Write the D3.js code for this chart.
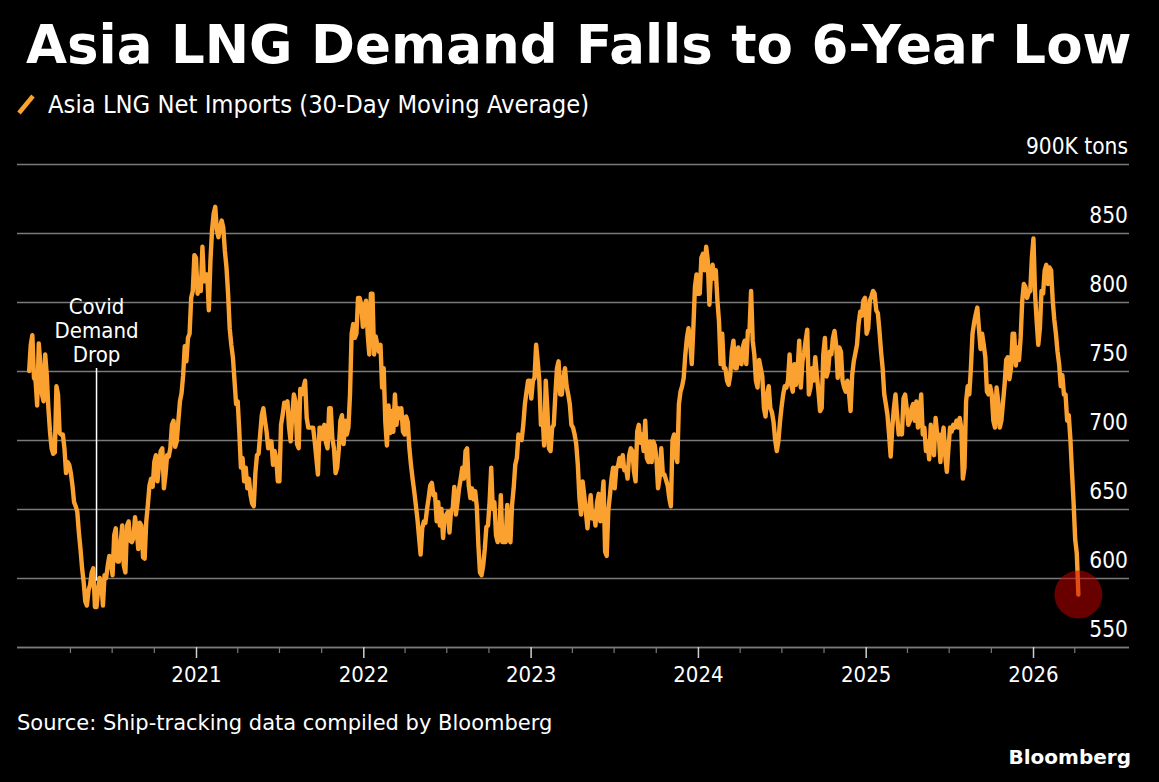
<!DOCTYPE html>
<html><head><meta charset="utf-8">
<script src="https://cdn.jsdelivr.net/npm/d3@7"></script>
<style>
html,body{margin:0;padding:0;background:#000;}
svg{display:block;}
.cond{font-family:'DejaVu Sans Condensed','DejaVu Sans',sans-serif;font-stretch:condensed;}
.reg{font-family:'DejaVu Sans',sans-serif;}
</style></head>
<body><svg id="chart" width="1159" height="782"></svg>
<script>
// ---- text ----
const titleText = "Asia LNG Demand Falls to 6-Year Low";
const seriesName = "Asia LNG Net Imports (30-Day Moving Average)";
const sourceText = "Source: Ship-tracking data compiled by Bloomberg";
const brandText = "Bloomberg";
const unitSuffix = "K tons";
const annotationLines = ["Covid", "Demand", "Drop"];
const annotationDate = "2020-05-29";
const annotationValue = 598;

// ---- axes ----
const yTicks = [550, 600, 650, 700, 750, 800, 850, 900];
const xLabelYears = [2021, 2022, 2023, 2024, 2025, 2026];
const xDomain = ["2019-12-07T12:00:00Z", "2026-07-29T10:00:00Z"];
const minorTickFrom = "2020-04-01";
const minorTickTo = "2026-04-01";

// ---- series (thousand tons) ----
// readings every 7 days from startDate, and the readings half-way between them
const startDate = "2020-01-03";
const stepHours = 84; // half a week between consecutive readings once interleaved
const weeklyValues = [
 750,776,743,770,733,762,723,694,691,733,704,694,684,676,655,648,621,597,580,595,
 607,579,600,580,600,616,602,636,612,638,604,641,626,644,621,638,614,653,672,684,
 670,692,665,689,694,714,699,728,747,757,777,808,832,815,
 840,820,794,852,869,847,859,837,806,769,743,728,680,670,665,660,652,689,704,723,
 706,699,682,687,670,718,726,709,718,728,694,733,743,709,709,699,675,709,711,694,
 723,694,680,714,697,704,733,784,777,803,782,801,762,806,775,
 764,738,713,725,721,733,723,723,704,713,682,663,643,617,641,650,667,660,641,638,
 629,646,633,650,646,665,680,692,667,665,663,624,602,621,638,680,655,626,660,626,
 653,626,665,687,701,711,735,743,743,769,743,718,743,694,
 709,733,757,733,752,733,711,704,682,646,660,636,660,648,655,641,670,616,660,680,
 680,687,689,680,689,692,670,711,704,714,684,684,696,665,694,675,667,652,704,684,
 735,745,774,772,781,820,806,835,840,798,827,823,786,777,752,
 740,764,752,767,755,772,779,808,762,738,752,723,733,723,713,692,713,733,738,762,
 735,740,772,757,772,733,752,760,735,723,774,750,762,779,745,764,738,743,721,757,
 769,793,801,777,801,808,794,779,752,726,704,709,733,704,
 704,733,711,723,714,709,733,709,699,711,689,704,684,709,677,709,711,714,716,672,
 728,733,777,791,781,777,760,733,733,709,728,714,740,760,752,777,767,774,813,803,
 808,846,786,781,806,827,825,801,777,755,747,733,718,677,628,588
];
const midWeekValues = [
 769,745,725,755,728,747,706,690,739,705,704,676,682,667,652,633,607,583,591,604,
 579,592,596,602,609,612,631,612,625,609,638,627,629,636,640,615,641,667,666,689,
 682,694,675,688,711,695,714,734,768,774,803,834,806,808,
 815,820,830,864,852,854,854,825,781,760,726,706,687,680,672,654,676,690,718,714,
 694,699,692,670,711,727,728,699,733,697,737,738,716,709,709,687,709,701,698,723,
 701,676,693,718,714,709,777,774,803,798,796,777,806,762,769,
 769,752,696,705,706,711,716,706,717,694,672,653,630,636,640,658,669,661,655,650,
 644,648,649,666,655,672,672,694,658,657,652,604,609,637,655,650,631,629,626,626,
 629,653,682,704,700,726,743,730,745,757,711,696,723,692,
 711,752,733,745,739,726,709,697,658,670,648,650,643,638,661,655,619,649,672,665,
 681,681,678,672,694,677,706,698,692,687,699,699,686,673,675,671,658,700,689,726,
 739,762,781,755,811,806,832,823,830,821,817,801,755,752,743,
 747,772,752,756,768,755,779,772,743,758,746,717,739,720,700,699,724,739,743,740,
 755,751,738,763,780,738,743,747,721,762,746,764,774,769,767,743,735,734,747,763,
 784,790,803,781,804,806,792,764,733,718,688,723,718,709,
 730,723,714,726,728,716,704,692,686,696,716,704,701,689,694,706,709,709,709,680,
 739,752,785,796,766,769,735,739,714,738,709,727,758,744,777,754,758,801,811,807,
 832,806,769,808,823,813,823,787,764,739,733,714,701,655,618
];

// ---- colours ----
const lineColor = "#fba12f";
const gridColor = "#7a7a7a";
const highlightColor = "rgba(200,0,0,0.52)";

const parse = d3.utcParse("%Y-%m-%d");
const start = parse(startDate);
const series = [];
weeklyValues.forEach((v, i) => {
  series.push(v);
  if (i < midWeekValues.length) series.push(midWeekValues[i]);
});
const data = series.map((v, i) => ({date: d3.utcHour.offset(start, i * stepHours), value: v}));

const svg = d3.select("#chart");
svg.append("rect").attr("width", 1159).attr("height", 782).attr("fill", "#000");

const plotLeft = 17, plotRight = 1129, plotTop = 164, plotBottom = 647;
const x = d3.scaleUtc().domain(xDomain.map(d => new Date(d))).range([plotLeft, plotRight]);
const y = d3.scaleLinear().domain([550, 900]).range([plotBottom, plotTop]);

// title
svg.append("text").attr("x", 26).attr("y", 63)
  .attr("fill", "#fff")
  .style("font-family", "'DejaVu Sans', sans-serif").style("font-weight", "bold").style("font-size", "53px")
  .text(titleText);

// legend
svg.append("line").attr("x1", 19).attr("y1", 113).attr("x2", 33).attr("y2", 96)
  .attr("stroke", lineColor).attr("stroke-width", 4.5).attr("stroke-linecap", "butt");
svg.append("text").attr("class", "cond").attr("x", 48).attr("y", 113)
  .attr("fill", "#fff").style("font-size", "25.3px").text(seriesName);

// gridlines + y labels
const yAxis = d3.axisRight(y).tickValues(yTicks).tickSize(plotRight - plotLeft)
  .tickFormat(d => d === 900 ? d + unitSuffix : d);
const gy = svg.append("g").attr("transform", `translate(${plotLeft},0)`).call(yAxis);
gy.select(".domain").remove();
gy.selectAll(".tick line").attr("stroke", gridColor).attr("stroke-width", 1.5);
gy.selectAll(".tick text")
  .attr("class", "cond")
  .attr("x", plotRight - plotLeft - 1).attr("dy", "-11px").attr("text-anchor", "end")
  .attr("fill", "#fff").style("font-size", "22.5px");

// x axis: minor quarterly ticks, major yearly ticks with labels
const minorTicks = d3.utcMonth.every(3).range(parse(minorTickFrom), d3.utcDay.offset(parse(minorTickTo), 1));
const gxMinor = svg.append("g").attr("transform", `translate(0,${plotBottom})`)
  .call(d3.axisBottom(x).tickValues(minorTicks.filter(d => d.getUTCMonth() !== 0)).tickSize(6).tickFormat(""));
gxMinor.select(".domain").attr("stroke", gridColor).attr("stroke-width", 1.5).attr("d", `M${plotLeft},0.5H${plotRight}`);
gxMinor.selectAll(".tick line").attr("stroke", gridColor).attr("stroke-width", 1.2);

const yearTicks = xLabelYears.map(yv => new Date(Date.UTC(yv, 0, 1)));
const gxMajor = svg.append("g").attr("transform", `translate(0,${plotBottom})`)
  .call(d3.axisBottom(x).tickValues(yearTicks).tickSize(11).tickFormat(d3.utcFormat("%Y")));
gxMajor.select(".domain").remove();
gxMajor.selectAll(".tick line").attr("stroke", "#cfcfcf").attr("stroke-width", 1.5);
gxMajor.selectAll(".tick text").attr("class", "cond").attr("y", 35).attr("dy", 0)
  .attr("fill", "#fff").style("font-size", "22px");

// series line
const line = d3.line().x(d => x(d.date)).y(d => y(d.value));
svg.append("path").datum(data).attr("d", line)
  .attr("fill", "none").attr("stroke", lineColor).attr("stroke-width", 4.4)
  .attr("stroke-linejoin", "round").attr("stroke-linecap", "round");

// highlight last point
const last = data[data.length - 1];
svg.append("circle").attr("cx", x(last.date)).attr("cy", y(last.value)).attr("r", 24)
  .attr("fill", highlightColor);

// annotation
const ax = x(parse(annotationDate));
const at = svg.append("text").attr("class", "cond").attr("text-anchor", "middle")
  .attr("fill", "#fff").style("font-size", "22px");
annotationLines.forEach((t, i) => {
  at.append("tspan").attr("x", ax).attr("y", 314 + i * 24).text(t);
});
svg.append("line").attr("x1", ax).attr("x2", ax).attr("y1", 368).attr("y2", y(annotationValue))
  .attr("stroke", "#fff").attr("stroke-width", 1.5);

// footer
svg.append("text").attr("class", "reg").attr("x", 17).attr("y", 730)
  .attr("fill", "#fff").style("font-size", "21px").text(sourceText);
svg.append("text").attr("class", "reg").attr("x", 1131).attr("y", 764).attr("text-anchor", "end")
  .attr("fill", "#fff").style("font-size", "20px").style("font-weight", "bold").text(brandText);
</script>
</body></html>
